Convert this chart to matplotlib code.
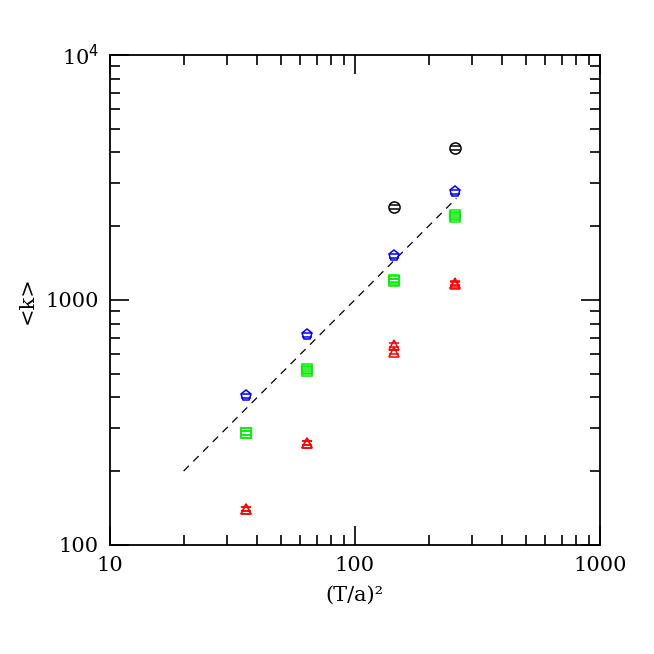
import numpy as np
import matplotlib.pyplot as plt
from matplotlib.ticker import FixedLocator, LogLocator, NullFormatter, FixedFormatter

# (T/a)^2 values
x_vals = [36, 64, 144, 256]

k_black_x = [144, 256]
k_black = [2400, 4170]
k_blue = [406, 720, 1514, 2760]
k_green_a = [286, 512, 1190, 2180]
k_green_b = [286, 522, 1200, 2225]
k_red_a = [140, 261, 614, 1165]
k_red_b = [140, 261, 655, 1175]

fit_x = [20, 260]

plt.rcParams['font.family'] = ['DejaVu Serif']

fig = plt.figure(figsize=(6.54, 6.54), dpi=100)
ax = fig.add_axes([0.168, 0.167, 0.749, 0.749])


def pts(ax, x, y, marker, color, ms=7.5):
    y = np.array(y, dtype=float)
    ax.errorbar(x, y, yerr=[y * 0.018, y * 0.018], fmt=marker, mfc='none', mec=color,
                ecolor=color, ms=ms, mew=1.1, elinewidth=0, capsize=3.5, capthick=1.1)


pts(ax, k_black_x, k_black, 'o', 'black', 8)
pts(ax, x_vals, k_blue, 'p', 'blue', 8)
pts(ax, x_vals, k_green_a, 's', '#00ee00')
pts(ax, x_vals, k_green_b, 's', '#00ee00')
pts(ax, x_vals, k_red_a, '^', 'red')
pts(ax, x_vals, k_red_b, '^', 'red')

fx = np.array(fit_x, dtype=float)
ax.plot(fx, 10 * fx, ls=(0, (6, 5)), color='black', lw=0.9)

ax.set_xscale('log')
ax.set_yscale('log')
ax.set_xlim(10, 1000)
ax.set_ylim(100, 10000)

ax.xaxis.set_major_locator(FixedLocator([10, 100, 1000]))
ax.xaxis.set_major_formatter(FixedFormatter(['10', '100', '1000']))
ax.yaxis.set_major_locator(FixedLocator([100, 1000, 10000]))
ax.yaxis.set_major_formatter(FixedFormatter(['100', '1000', r'10$^4$']))
ax.xaxis.set_minor_locator(LogLocator(base=10, subs=np.arange(2, 10)))
ax.yaxis.set_minor_locator(LogLocator(base=10, subs=np.arange(2, 10)))
ax.xaxis.set_minor_formatter(NullFormatter())
ax.yaxis.set_minor_formatter(NullFormatter())

ax.tick_params(which='both', direction='in', top=True, right=True, width=1.2, labelsize=15, pad=8)
ax.tick_params(which='major', length=14)
ax.tick_params(which='minor', length=7)
for s in ax.spines.values():
    s.set_linewidth(1.3)

ax.set_xlabel('(T/a)²', fontsize=15, labelpad=8)
ax.set_ylabel('<k>', fontsize=15)
ax.yaxis.set_label_coords(-0.15, 0.5)

plt.savefig('out.png', dpi=100)
